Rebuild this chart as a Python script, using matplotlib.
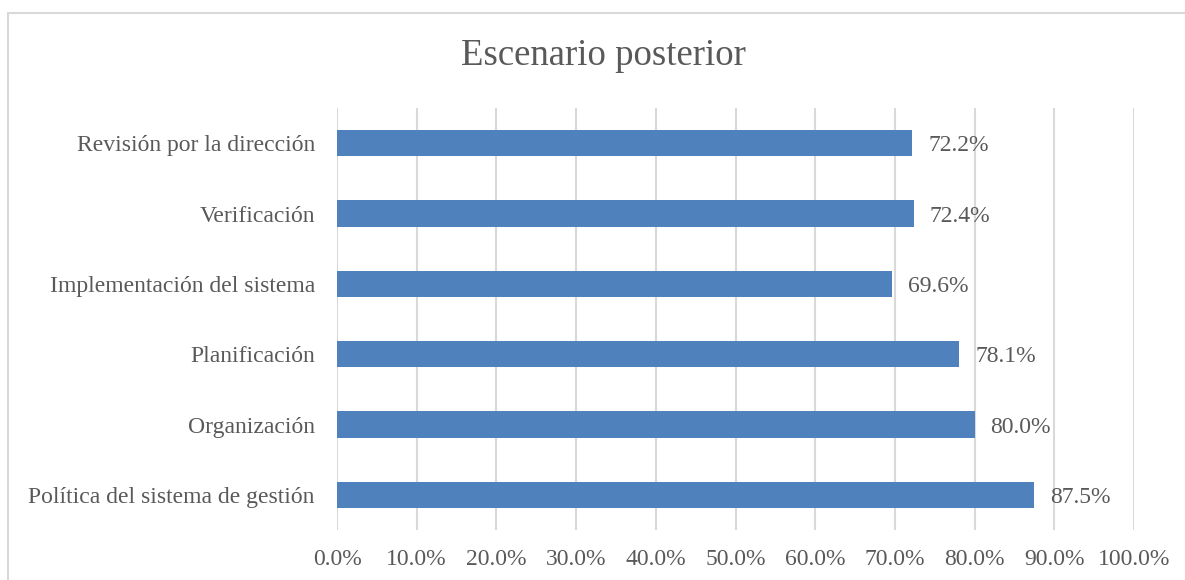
import matplotlib.pyplot as plt
from matplotlib.patches import Rectangle
from matplotlib.ticker import FuncFormatter

# ======== Data ========
categories = [
    "Política del sistema de gestión",
    "Organización",
    "Planificación",
    "Implementación del sistema",
    "Verificación",
    "Revisión por la dirección",
]
values = [87.5, 80.0, 78.1, 69.6, 72.4, 72.2]
xticks = [0, 10, 20, 30, 40, 50, 60, 70, 80, 90, 100]

# ======== Style ========
plt.rcParams["font.family"] = ["Liberation Serif", "DejaVu Serif"]
TEXT = "#595959"
BAR = "#4F81BD"
GRID = "#D9D9D9"

fig = plt.figure(figsize=(11.85, 5.8), dpi=100)
ax = fig.add_axes([337 / 1185, 1 - 530 / 580, (1134 - 337) / 1185, 422 / 580])

# chart frame (only left/top visible in the reference)
fig.patches.append(Rectangle((8 / 1185, -0.1), 1.2, 1.1 - 12.5 / 580,
                             transform=fig.transFigure, fill=False,
                             edgecolor=GRID, linewidth=1.5))

y = range(len(categories))
ax.barh(y, values, height=0.37, color=BAR, zorder=3)

for yi, v in zip(y, values):
    ax.text(v + 2.0, yi, f"{v:.1f}%", va="center_baseline", ha="left",
            fontsize=17, color=TEXT)

ax.set_xlim(0, 100)
ax.set_ylim(-0.5, len(categories) - 0.5)
ax.set_xticks(xticks)
ax.xaxis.set_major_formatter(FuncFormatter(lambda x, _: f"{x:.1f}%"))
ax.set_yticks(list(y))
ax.set_yticklabels(categories)
ax.tick_params(axis="both", length=0, labelsize=17, labelcolor=TEXT)
ax.tick_params(axis="x", pad=14)
ax.tick_params(axis="y", pad=16)
ax.grid(axis="x", color=GRID, linewidth=1.5, zorder=0)
for s in ax.spines.values():
    s.set_visible(False)

fig.text(603 / 1185, 1 - 56 / 580, "Escenario posterior", ha="center",
         va="center", fontsize=26.5, color=TEXT)

fig.savefig("out.png", dpi=100)
